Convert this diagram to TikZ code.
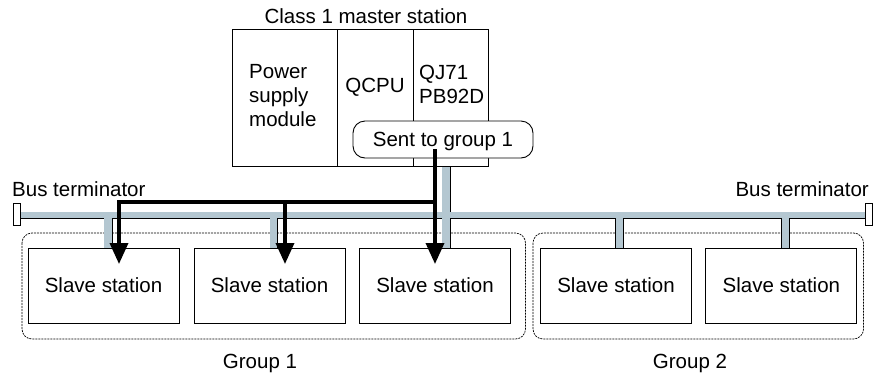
\documentclass[tikz,border=0pt]{standalone}
\usepackage{fontspec}
\setmainfont{Liberation Sans}
\usetikzlibrary{arrows.meta}
\definecolor{buscol}{RGB}{180,199,209}
\begin{document}
\begin{tikzpicture}[x=1pt,y=-1pt,
  font=\fontsize{20.5}{24}\selectfont,
  box/.style={draw, line width=0.9pt, fill=white, inner sep=0pt},
  slavebox/.style={box, minimum width=151pt, minimum height=75pt},
  grp/.style={draw, dash pattern=on 2pt off 1pt, line width=0.7pt, rounded corners=10pt},
  busline/.style={draw=black, fill=buscol, line width=0.9pt},
  term/.style={draw=black, fill=white, line width=0.9pt},
  sig/.style={line width=3.5pt, -{Triangle[width=18pt,length=21pt]}},
  lbl/.style={inner sep=0pt}
]
\useasboundingbox (0,0) rectangle (876,381);

% group boxes
\draw[grp] (22,233) rectangle (525.5,339);
\draw[grp] (533,233) rectangle (863.5,339);

% bus outlines
\path[busline] (20.7,212) rectangle (865,218.5);
\path[busline] (104,218) rectangle (112,248);
\path[busline] (270,218) rectangle (277.5,248);
\path[busline] (442,166) rectangle (450,248);
\path[busline] (615.7,218) rectangle (623.3,248);
\path[busline] (781.7,218) rectangle (789.3,248);
% bus inner fills (remove inner lines at junctions)
\fill[buscol] (21.2,212.45) rectangle (864.5,218.05);
\fill[buscol] (104.45,212.45) rectangle (111.55,247.5);
\fill[buscol] (270.45,212.45) rectangle (277.05,247.5);
\fill[buscol] (442.45,166.5) rectangle (449.55,247.5);
\fill[buscol] (616.15,212.45) rectangle (622.85,247.5);
\fill[buscol] (782.15,212.45) rectangle (788.85,247.5);

% bus terminators
\path[term] (13,203) rectangle (20.7,225);
\path[term] (865,203) rectangle (872.7,225);

% master station
\node[box, minimum width=256pt, minimum height=137pt] (master) at (360,97.5) {};
\draw[line width=0.9pt] (337,29) -- (337,166);
\draw[line width=0.9pt] (413,29) -- (413,166);
\node[lbl] (mtitle) at (366,16) {Class 1 master station};
\node[lbl, align=left, anchor=west] (psu) at (249,96) {Power\\supply\\module};
\node[lbl] (cpu) at (375,87) {QCPU};
\node[lbl, align=left, anchor=west] (qj) at (419,84.5) {QJ71\\PB92D};
\node[box, rounded corners=12pt, minimum width=180pt, minimum height=37pt, text depth=0pt] (sent) at (443,139.5) {Sent to group 1};

% slave stations
\node[slavebox] (s1) at (103.5,285.5) {Slave station};
\node[slavebox] (s2) at (269.5,285.5) {Slave station};
\node[slavebox] (s3) at (435,285.5) {Slave station};
\node[slavebox] (s4) at (616,285.5) {Slave station};
\node[slavebox] (s5) at (781.4,285.5) {Slave station};

% labels
\node[lbl, anchor=west] (bt1) at (12,189) {Bus terminator};
\node[lbl, anchor=east] (bt2) at (869,189) {Bus terminator};
\node[lbl] (g1) at (260,363) {Group 1};
\node[lbl] (g2) at (690,363) {Group 2};

% signal arrows
\coordinate (src) at (435,149);
\coordinate (j1) at (435,202);
\coordinate (j2) at (285,202);
\coordinate (t1) at (119,264);
\coordinate (t2) at (285,264);
\coordinate (t3) at (435,264);
\draw[sig] (src) -- (t3);
\draw[sig] (j1) -| (t1);
\draw[sig] (j2) -- (t2);
\end{tikzpicture}
\end{document}
